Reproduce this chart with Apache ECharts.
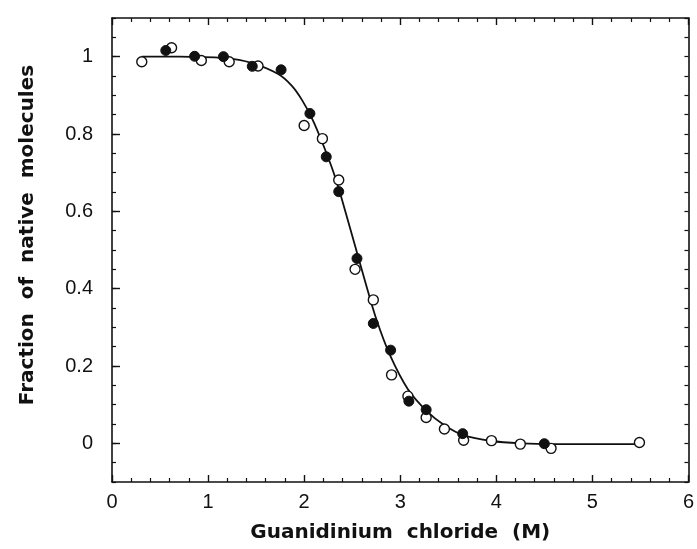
<!DOCTYPE html>
<html>
<head>
<meta charset="utf-8">
<script src="https://cdn.jsdelivr.net/npm/echarts@6/dist/echarts.min.js"></script>
<style>html,body{margin:0;padding:0;background:#fff;}#c{width:697px;height:549px;}</style>
</head>
<body>
<div id="c"></div>
<script>
// Fitted curve points
const curveX = [0.31, 0.70, 1.17, 1.45, 1.73, 1.87, 1.98, 2.09, 2.20, 2.30, 2.38, 2.53, 2.64, 2.75, 2.89, 3.08, 3.29, 3.46, 3.65, 3.95, 4.26, 4.60, 5.49];
const curveY = [1.000, 1.000, 0.996, 0.984, 0.955, 0.925, 0.887, 0.836, 0.771, 0.705, 0.642, 0.511, 0.414, 0.322, 0.230, 0.140, 0.080, 0.047, 0.022, 0.006, 0.000, -0.002, -0.002];
// Filled circles
const filledX = [0.56, 0.86, 1.16, 1.46, 1.76, 2.06, 2.23, 2.36, 2.55, 2.72, 2.90, 3.09, 3.27, 3.65, 4.50];
const filledY = [1.016, 1.001, 1.000, 0.975, 0.966, 0.853, 0.741, 0.651, 0.478, 0.310, 0.241, 0.109, 0.087, 0.025, -0.001];
// Open circles
const openX = [0.31, 0.62, 0.93, 1.22, 1.52, 2.00, 2.19, 2.36, 2.53, 2.72, 2.91, 3.08, 3.27, 3.46, 3.66, 3.95, 4.25, 4.57, 5.49];
const openY = [0.987, 1.023, 0.990, 0.987, 0.976, 0.822, 0.788, 0.681, 0.450, 0.371, 0.177, 0.122, 0.067, 0.037, 0.008, 0.007, -0.002, -0.013, 0.002];
// Tick labels
const yLabelValues = [0, 0.2, 0.4, 0.6, 0.8, 1];
const xLabelValues = [0, 1, 2, 3, 4, 5, 6];

const zip = (a, b) => a.map((v, i) => [v, b[i]]);
const font = 'Liberation Sans';
const titleFont = 'DejaVu Sans';
const ink = '#111';

const chart = echarts.init(document.getElementById('c'), null, {renderer: 'canvas'});
const baseX = {
  type: 'value', min: 0, max: 6, interval: 1,
  axisLine: {show: true, onZero: false, lineStyle: {color: ink, width: 1.6}},
  axisTick: {show: true, inside: true, length: 7, lineStyle: {color: ink, width: 1.4}},
  minorTick: {show: true, splitNumber: 5, length: 4, lineStyle: {color: ink, width: 1.2}},
  splitLine: {show: false}, minorSplitLine: {show: false}
};
const baseY = {
  type: 'value', min: -0.1, max: 1.1, interval: 0.05,
  axisLine: {show: true, onZero: false, lineStyle: {color: ink, width: 1.6}},
  axisTick: {show: true, inside: true, length: 4, lineStyle: {color: ink, width: 1.2}},
  splitLine: {show: false}
};
chart.setOption({
  animation: false,
  backgroundColor: '#fff',
  grid: {left: 112, right: 7, top: 18, bottom: 67, containLabel: false},
  xAxis: [
    Object.assign({}, baseX, {
      position: 'bottom',
      name: 'Guanidinium  chloride  (M)', nameLocation: 'middle', nameGap: 41,
      nameTextStyle: {fontFamily: titleFont, fontSize: 20, color: ink, fontWeight: 'bold'},
      axisLabel: {show: true, margin: 10, fontFamily: font, fontSize: 20, color: ink,
        customValues: xLabelValues}
    }),
    Object.assign({}, baseX, {position: 'top', axisLabel: {show: false}})
  ],
  yAxis: [
    Object.assign({}, baseY, {
      position: 'left',
      name: 'Fraction  of  native  molecules', nameLocation: 'middle', nameGap: 74,
      nameTextStyle: {fontFamily: titleFont, fontSize: 20, color: ink, fontWeight: 'bold', padding: [0, 0, 0, 30]},
      axisLabel: {show: true, margin: 19, fontFamily: font, fontSize: 20, color: ink,
        customValues: yLabelValues, formatter: v => String(Math.round(v * 10) / 10)}
    }),
    Object.assign({}, baseY, {position: 'right', axisLabel: {show: false}}),
    {
      type: 'value', min: -0.1, max: 1.1, position: 'left',
      axisLine: {show: false}, splitLine: {show: false}, axisLabel: {show: false},
      axisTick: {show: true, inside: true, length: 8, customValues: yLabelValues, lineStyle: {color: ink, width: 1.4}}
    }
  ],
  series: [
    {
      type: 'line', data: zip(curveX, curveY), smooth: 0.3,
      showSymbol: false, symbol: 'none', lineStyle: {color: ink, width: 1.8}, z: 2
    },
    {
      type: 'scatter', data: zip(openX, openY), symbol: 'circle', symbolSize: 10,
      itemStyle: {color: '#fff', borderColor: ink, borderWidth: 1.4, opacity: 1}, z: 3
    },
    {
      type: 'scatter', data: zip(filledX, filledY), symbol: 'circle', symbolSize: 10,
      itemStyle: {color: ink, borderColor: ink, borderWidth: 1, opacity: 1}, z: 4
    }
  ]
});
</script>
</body>
</html>
